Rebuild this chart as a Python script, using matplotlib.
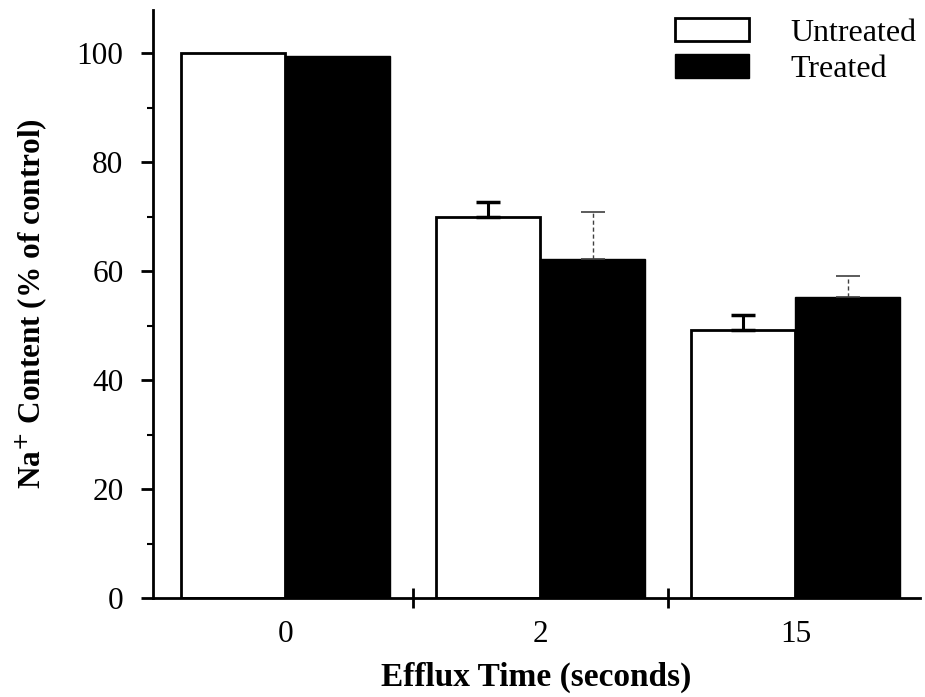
import matplotlib.pyplot as plt
import numpy as np

plt.rcParams['font.family'] = ['Liberation Serif', 'DejaVu Serif']

times = ['0', '2', '15']
untreated = [100, 70, 49.2]
untreated_err = [0, 2.7, 2.7]
treated = [99.6, 62.2, 55.2]
treated_err = [0, 8.6, 3.9]

fig = plt.figure(figsize=(9.25, 6.97), dpi=100)
ax = fig.add_axes([0.165, 0.142, 0.83, 0.844])

x = np.arange(len(times))
w = 0.41

ax.bar(x - w/2, untreated, w, color='white', edgecolor='black', linewidth=2,
       label='Untreated', zorder=2)
ax.bar(x + w/2, treated, w, color='black', edgecolor='black', linewidth=1,
       label='Treated', zorder=2)

# only upper error bars, no bar at t=0
has_err = np.array(untreated_err) > 0
ux = (x - w/2)[has_err]
tx = (x + w/2)[has_err]
uv = np.array(untreated)[has_err]
tv = np.array(treated)[has_err]
ue = np.array(untreated_err)[has_err]
te = np.array(treated_err)[has_err]
ax.errorbar(ux, uv, yerr=[np.zeros(len(ue)), ue], fmt='none',
            ecolor='black', elinewidth=2.2, capsize=8.5, capthick=2.5, zorder=3)
eb2 = ax.errorbar(tx, tv, yerr=[np.zeros(len(te)), te], fmt='none',
                  ecolor='0.25', elinewidth=1, capsize=8.5, capthick=1.2, zorder=3)
eb2[2][0].set_linestyle((0, (3, 2)))

ax.set_xlim(-0.52, 2.49)
ax.set_ylim(0, 108)

ax.spines['top'].set_visible(False)
ax.spines['right'].set_visible(False)
ax.spines['left'].set_linewidth(2)
ax.spines['bottom'].set_linewidth(2)

ax.set_yticks([0, 20, 40, 60, 80, 100])
ax.set_yticks([10, 30, 50, 70, 90], minor=True)
ax.tick_params(axis='y', which='major', direction='out', length=9, width=2,
               labelsize=22.5, pad=12)
ax.tick_params(axis='y', which='minor', direction='out', length=4, width=1.5)

ax.set_xticks(x)
ax.set_xticklabels(times)
ax.set_xticks([0.5, 1.5], minor=True)
ax.tick_params(axis='x', which='major', length=0, labelsize=22.5, pad=16)
ax.tick_params(axis='x', which='minor', direction='inout', length=14, width=2)

ax.set_xlabel('Efflux Time (seconds)', fontsize=24, fontweight='bold', labelpad=9)
ax.set_ylabel('Na$^{+}$ Content (% of control)', fontsize=22.5, fontweight='bold',
              labelpad=20)

ax.legend(loc='upper right', bbox_to_anchor=(1.032, 1.035), frameon=False, fontsize=23,
          handlelength=2.3, handleheight=0.75, handletextpad=1.3, labelspacing=0.2)

fig.savefig('out.png', dpi=100)
